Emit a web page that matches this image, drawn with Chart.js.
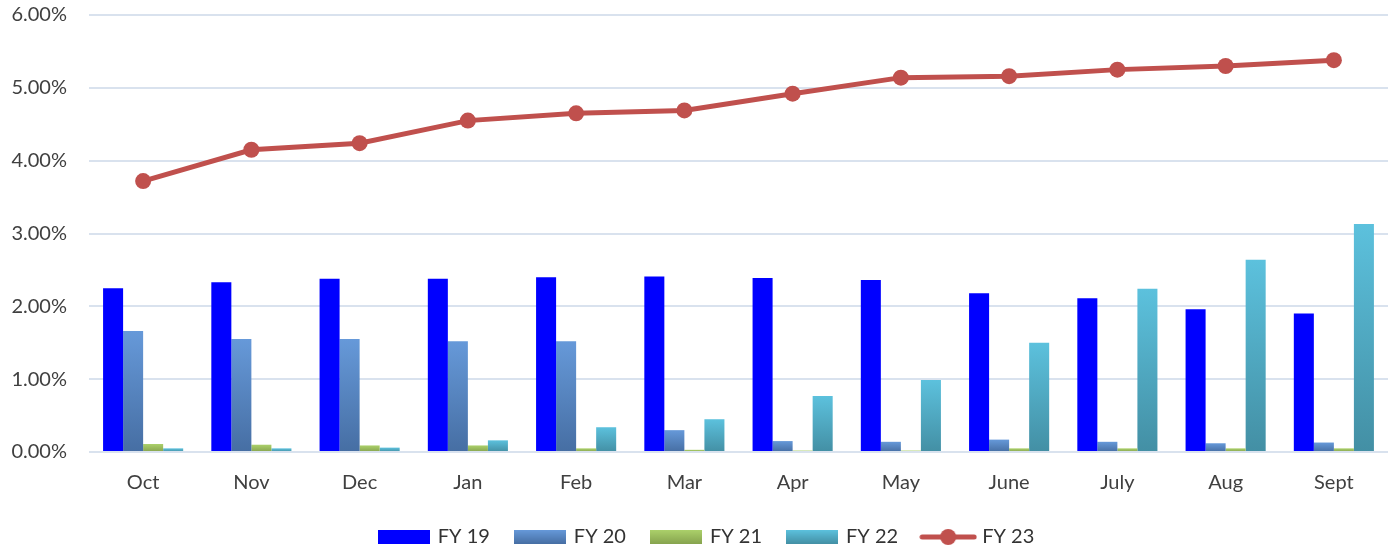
<!DOCTYPE html>
<html>
<head>
<meta charset="utf-8">
<script src="https://cdn.jsdelivr.net/npm/chart.js@4/dist/chart.umd.min.js"></script>
<style>
  html, body { margin: 0; padding: 0; background: #fff; }
  #wrap { width: 1388px; height: 550px; position: relative; }
</style>
</head>
<body>
<div id="wrap"><canvas id="rates"></canvas></div>
<script>
/** MONTHLY RATE CHART **/

var months = ["Oct", "Nov", "Dec", "Jan", "Feb", "Mar", "Apr", "May", "June", "July", "Aug", "Sept"];
var fy19 = [2.25, 2.33, 2.38, 2.38, 2.40, 2.41, 2.39, 2.36, 2.18, 2.11, 1.96, 1.90];
var fy20 = [1.66, 1.55, 1.55, 1.52, 1.52, 0.30, 0.15, 0.14, 0.17, 0.14, 0.12, 0.13];
var fy21 = [0.11, 0.10, 0.09, 0.09, 0.05, 0.03, 0.02, 0.02, 0.05, 0.05, 0.05, 0.05];
var fy22 = [0.05, 0.05, 0.06, 0.16, 0.34, 0.45, 0.77, 0.99, 1.50, 2.24, 2.64, 3.13];
var fy23 = [3.72, 4.15, 4.24, 4.55, 4.65, 4.69, 4.92, 5.14, 5.16, 5.25, 5.30, 5.38];
var yTicks = [0, 1, 2, 3, 4, 5, 6];

var FONT = "Lato, 'Open Sans', sans-serif";

// vertical gradient for each bar, light on top, darker at the base
function barGradient(light, dark) {
    return function (c) {
        var ys = c.chart.scales.y;
        if (!ys || c.type !== 'data') return light;
        var top = ys.getPixelForValue(c.raw);
        var bot = ys.getPixelForValue(0);
        if (!isFinite(top) || !isFinite(bot) || Math.abs(bot - top) < 1) return light;
        var g = c.chart.ctx.createLinearGradient(0, top, 0, bot);
        g.addColorStop(0, light);
        g.addColorStop(1, dark);
        return g;
    };
}

// little canvases for the legend markers
function swatch(light, dark) {
    var cv = document.createElement('canvas');
    cv.width = 52; cv.height = 14;
    var x = cv.getContext('2d');
    var g = x.createLinearGradient(0, 0, 0, 14);
    g.addColorStop(0, light);
    g.addColorStop(1, dark);
    x.fillStyle = g;
    x.fillRect(0, 0, 52, 14);
    return cv;
}
function lineSwatch(color) {
    var cv = document.createElement('canvas');
    cv.width = 58; cv.height = 18;
    var x = cv.getContext('2d');
    x.strokeStyle = color;
    x.lineWidth = 5;
    x.lineCap = 'round';
    x.beginPath(); x.moveTo(3, 9); x.lineTo(55, 9); x.stroke();
    x.fillStyle = color;
    x.beginPath(); x.arc(29, 9, 8, 0, Math.PI * 2); x.fill();
    return cv;
}

var series = [
    { label: 'FY 19', data: fy19, light: '#0000FF', dark: '#0000FF' },
    { label: 'FY 20', data: fy20, light: '#6699D9', dark: '#466EA3' },
    { label: 'FY 21', data: fy21, light: '#ABD06A', dark: '#86A34E' },
    { label: 'FY 22', data: fy22, light: '#5CC1DD', dark: '#438FA4' }
];

var datasets = series.map(function (s) {
    return {
        type: 'bar',
        label: s.label,
        data: s.data,
        backgroundColor: barGradient(s.light, s.dark),
        borderWidth: 0,
        barPercentage: 1.0,
        categoryPercentage: 0.74,
        order: 2
    };
});

datasets.push({
    type: 'line',
    label: 'FY 23',
    data: fy23,
    borderColor: '#C0504D',
    backgroundColor: '#C0504D',
    borderWidth: 5,
    pointRadius: 8,
    pointHoverRadius: 8,
    pointBackgroundColor: '#C0504D',
    pointBorderWidth: 0,
    tension: 0,
    order: 1
});

var markers = series.map(function (s) { return swatch(s.light, s.dark); });
markers.push(lineSwatch('#C0504D'));

// the legend in the original sits a little right of centre
var legendNudge = {
    id: 'legendNudge',
    afterLayout: function (chart) {
        if (chart.legend) chart.legend.left += 26;
    }
};

var rates = new Chart(document.getElementById('rates'), {
    data: {
        labels: months,
        datasets: datasets
    },
    plugins: [legendNudge],
    options: {
        responsive: true,
        maintainAspectRatio: false,
        animation: false,
        layout: { autoPadding: false, padding: { left: 0, right: 0, top: 0, bottom: -7 } },
        plugins: {
            tooltip: { enabled: false },
            legend: {
                position: 'bottom',
                labels: {
                    usePointStyle: true,
                    pointStyleWidth: 48,
                    padding: 26,
                    color: '#333333',
                    font: { family: FONT, size: 20 },
                    generateLabels: function (chart) {
                        return chart.data.datasets.map(function (d, i) {
                            return {
                                text: d.label,
                                pointStyle: markers[i],
                                fillStyle: '#fff',
                                strokeStyle: '#fff',
                                lineWidth: 0,
                                fontColor: '#333333',
                                hidden: false,
                                datasetIndex: i
                            };
                        });
                    }
                }
            }
        },
        scales: {
            x: {
                grid: { display: false },
                border: { display: false },
                afterFit: function (axis) { axis.height -= 5; },
                ticks: {
                    color: '#404040',
                    font: { family: FONT, size: 20 },
                    padding: 11
                }
            },
            y: {
                min: 0,
                max: 6,
                afterBuildTicks: function (axis) {
                    axis.ticks = yTicks.map(function (v) { return { value: v }; });
                },
                afterFit: function (axis) {
                    axis.width = 89;
                    axis.paddingTop = 15;
                    axis.paddingBottom = 12;
                },
                grid: { color: '#D9E2EE', lineWidth: 2, drawTicks: false },
                border: { display: false },
                ticks: {
                    color: '#404040',
                    font: { family: FONT, size: 20 },
                    padding: 22,
                    callback: function (v) { return v.toFixed(2) + '%'; }
                }
            }
        }
    }
});
</script>
</body>
</html>
